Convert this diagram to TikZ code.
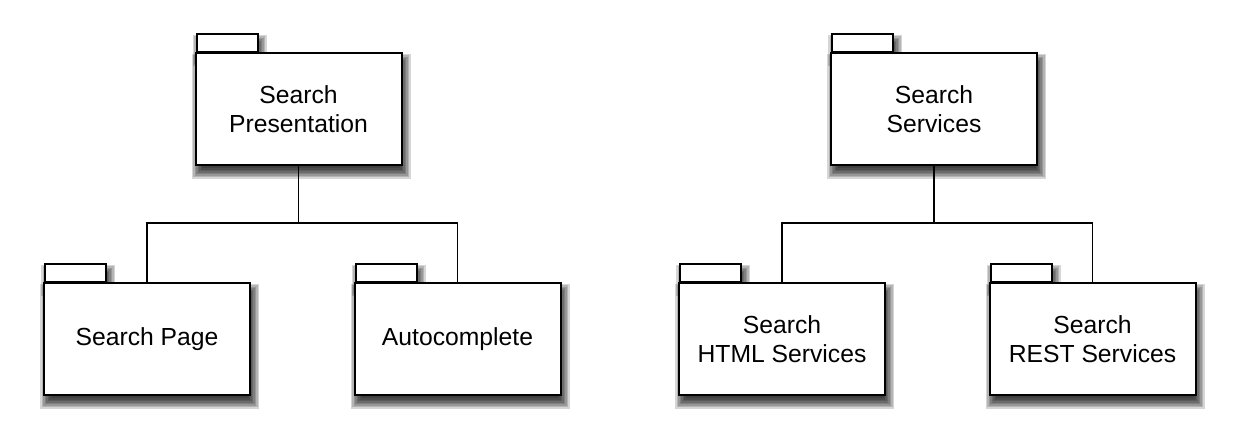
\documentclass[tikz,border=0pt]{standalone}
\usepackage{fontspec}
\setmainfont{Liberation Sans}
\usetikzlibrary{backgrounds}
\begin{document}
\begin{tikzpicture}[x=1pt,y=-1pt,
  pkgbody/.style={draw=black, line width=2pt, fill=white, rectangle,
    minimum width=206pt, minimum height=112pt, inner sep=0pt,
    align=center, font=\fontsize{24.7pt}{29pt}\selectfont},
  pkgtab/.style={draw=black, line width=2pt, fill=white, rectangle,
    minimum width=61pt, minimum height=18pt, inner sep=0pt, anchor=south west},
  shadowlayer/.style={fill=black, fill opacity=0.16},
  conn/.style={draw=black, line width=1.4pt}]
\useasboundingbox (0,0) rectangle (1238,446);
% tabs first (positioned from body coordinates)
\node[pkgtab] (sptab) at (195.5,53.2) {};
\node[pkgtab] (sstab) at (831,53.2) {};
\node[pkgtab] (spagetab) at (44,283) {};
\node[pkgtab] (autotab) at (354.5,283) {};
\node[pkgtab] (htmltab) at (679,283) {};
\node[pkgtab] (resttab) at (989.5,283) {};
% bodies
\node[pkgbody] (sp) at (298.5,109.2) {Search\\Presentation};
\node[pkgbody] (ss) at (934,109.2) {Search\\Services};
\node[pkgbody] (spage) at (147,339) {Search Page};
\node[pkgbody] (auto) at (457.5,339) {Autocomplete};
\node[pkgbody] (html) at (782,339) {Search\\HTML Services};
\node[pkgbody] (rest) at (1092.5,339) {Search\\REST Services};
% shadows
\begin{scope}[on background layer]
\foreach \n in {sp,ss,spage,auto,html,rest,sptab,sstab,spagetab,autotab,htmltab,resttab}{
  \foreach \d in {-5,-3.5,-2,-0.5,1,2.5,4,5.5}{
    \fill[shadowlayer] ([xshift=2.5pt-\d pt, yshift=-7pt+\d pt]\n.north west)
      rectangle ([xshift=2.5pt+\d pt, yshift=-7pt-\d pt]\n.south east);
  }
}
\end{scope}
% connectors
\coordinate (busl) at (298.5,223);
\coordinate (busr) at (934,223);
\draw[conn] (sp.south) -- (busl);
\draw[conn] (spage.north) |- (busl) -| (auto.north);
\draw[conn] (ss.south) -- (busr);
\draw[conn] (html.north) |- (busr) -| (rest.north);
\end{tikzpicture}
\end{document}
